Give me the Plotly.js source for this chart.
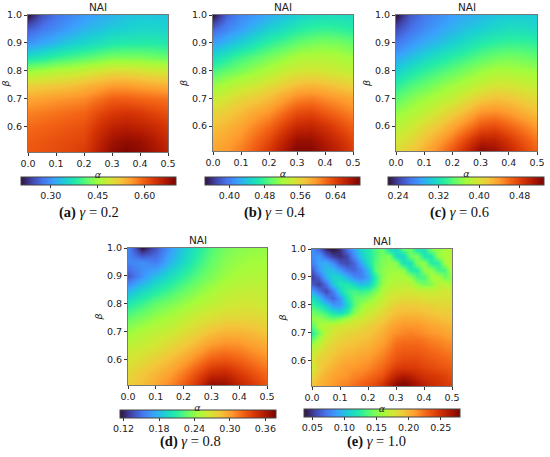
<!DOCTYPE html>
<html>
<head>
<meta charset="utf-8">
<script src="https://cdn.plot.ly/plotly-3.0.1.min.js"></script>
<style>html,body{margin:0;padding:0;background:#fff;}#chart{width:550px;height:457px;}</style>
</head>
<body>
<div id="chart"></div>
<script>
// grid coordinates
const alpha11 = [0, 0.05, 0.1, 0.15, 0.2, 0.25, 0.3, 0.35, 0.4, 0.45, 0.5];
const beta11 = [1.0, 0.95, 0.9, 0.85, 0.8, 0.75, 0.7, 0.65, 0.6, 0.55, 0.5];
const alpha21 = [0, 0.025, 0.05, 0.075, 0.1, 0.125, 0.15, 0.175, 0.2, 0.225, 0.25, 0.275, 0.3, 0.325, 0.35, 0.375, 0.4, 0.425, 0.45, 0.475, 0.5];
const beta21 = [1.0, 0.975, 0.95, 0.925, 0.9, 0.875, 0.85, 0.825, 0.8, 0.775, 0.75, 0.725, 0.7, 0.675, 0.65, 0.625, 0.6, 0.575, 0.55, 0.525, 0.5];

// NAI values, rows = beta (top to bottom), cols = alpha
const naiA = [
 [0.205,0.250,0.275,0.290,0.305,0.315,0.325,0.335,0.340,0.340,0.340],
 [0.260,0.280,0.295,0.310,0.325,0.335,0.345,0.350,0.355,0.355,0.350],
 [0.300,0.315,0.330,0.345,0.355,0.365,0.375,0.380,0.380,0.380,0.375],
 [0.365,0.375,0.390,0.400,0.410,0.420,0.430,0.430,0.430,0.425,0.420],
 [0.450,0.455,0.465,0.470,0.480,0.490,0.500,0.500,0.495,0.490,0.485],
 [0.510,0.515,0.520,0.525,0.535,0.545,0.555,0.555,0.550,0.545,0.540],
 [0.550,0.555,0.560,0.565,0.570,0.585,0.600,0.600,0.595,0.590,0.585],
 [0.575,0.580,0.585,0.590,0.595,0.615,0.630,0.635,0.630,0.620,0.610],
 [0.590,0.595,0.600,0.605,0.610,0.635,0.655,0.660,0.655,0.645,0.630],
 [0.600,0.605,0.610,0.615,0.620,0.650,0.675,0.685,0.680,0.665,0.645],
 [0.605,0.610,0.615,0.620,0.630,0.660,0.690,0.700,0.690,0.675,0.655]
];
const naiB = [
 [0.345,0.387,0.405,0.415,0.426,0.436,0.447,0.454,0.457,0.457,0.454],
 [0.387,0.405,0.419,0.433,0.447,0.457,0.468,0.475,0.478,0.475,0.471],
 [0.419,0.433,0.447,0.461,0.475,0.485,0.496,0.503,0.506,0.503,0.496],
 [0.454,0.468,0.482,0.492,0.503,0.513,0.524,0.527,0.527,0.524,0.517],
 [0.485,0.496,0.506,0.517,0.527,0.538,0.545,0.548,0.545,0.541,0.534],
 [0.513,0.524,0.534,0.541,0.552,0.562,0.573,0.576,0.573,0.566,0.559],
 [0.538,0.548,0.559,0.566,0.576,0.590,0.604,0.608,0.601,0.594,0.587],
 [0.559,0.566,0.576,0.587,0.597,0.615,0.632,0.636,0.625,0.615,0.604],
 [0.573,0.580,0.590,0.604,0.618,0.639,0.657,0.660,0.650,0.636,0.622],
 [0.583,0.590,0.601,0.618,0.636,0.660,0.681,0.681,0.667,0.653,0.636],
 [0.590,0.597,0.611,0.629,0.650,0.674,0.695,0.692,0.678,0.664,0.646]
];
const naiC = [
 [0.220,0.251,0.266,0.275,0.285,0.291,0.297,0.303,0.306,0.306,0.306],
 [0.245,0.263,0.275,0.285,0.294,0.303,0.309,0.315,0.319,0.319,0.315],
 [0.266,0.279,0.291,0.300,0.309,0.319,0.328,0.334,0.337,0.337,0.334],
 [0.288,0.300,0.312,0.322,0.331,0.340,0.349,0.356,0.359,0.356,0.352],
 [0.309,0.322,0.334,0.343,0.352,0.362,0.371,0.377,0.377,0.374,0.371],
 [0.331,0.343,0.352,0.362,0.371,0.380,0.389,0.396,0.396,0.392,0.386],
 [0.349,0.362,0.371,0.380,0.389,0.402,0.414,0.420,0.417,0.411,0.405],
 [0.368,0.377,0.386,0.399,0.411,0.426,0.442,0.445,0.439,0.429,0.420],
 [0.383,0.392,0.405,0.417,0.433,0.451,0.469,0.473,0.463,0.451,0.439],
 [0.396,0.405,0.420,0.436,0.454,0.479,0.500,0.500,0.485,0.469,0.454],
 [0.405,0.417,0.433,0.451,0.473,0.500,0.528,0.519,0.500,0.482,0.466]
];
const naiD = [
 [0.160,0.114,0.140,0.167,0.188,0.206,0.222,0.233,0.238,0.241,0.241],
 [0.159,0.162,0.155,0.178,0.196,0.214,0.228,0.238,0.243,0.246,0.246],
 [0.140,0.164,0.183,0.198,0.212,0.225,0.235,0.243,0.249,0.251,0.251],
 [0.177,0.193,0.206,0.217,0.228,0.238,0.246,0.254,0.257,0.259,0.257],
 [0.206,0.217,0.228,0.235,0.243,0.251,0.257,0.262,0.265,0.265,0.262],
 [0.228,0.235,0.243,0.249,0.257,0.265,0.270,0.275,0.275,0.275,0.272],
 [0.243,0.251,0.257,0.262,0.270,0.278,0.286,0.291,0.291,0.288,0.283],
 [0.257,0.262,0.267,0.275,0.283,0.294,0.304,0.309,0.307,0.301,0.296],
 [0.267,0.272,0.280,0.288,0.299,0.312,0.325,0.328,0.323,0.315,0.307],
 [0.275,0.283,0.291,0.301,0.315,0.333,0.349,0.352,0.341,0.330,0.320],
 [0.280,0.288,0.299,0.312,0.328,0.349,0.378,0.373,0.357,0.344,0.330]
];
const naiE = [
 [0.081,0.066,0.044,0.037,0.047,0.071,0.090,0.110,0.120,0.134,0.144,0.115,0.110,0.139,0.144,0.117,0.117,0.149,0.154,0.159,0.163],
 [0.081,0.086,0.066,0.052,0.047,0.056,0.081,0.105,0.120,0.134,0.146,0.149,0.115,0.110,0.144,0.149,0.120,0.120,0.154,0.161,0.166],
 [0.076,0.090,0.095,0.081,0.061,0.056,0.066,0.090,0.115,0.137,0.149,0.154,0.151,0.117,0.115,0.149,0.154,0.124,0.124,0.159,0.168],
 [0.061,0.086,0.100,0.100,0.086,0.071,0.066,0.076,0.100,0.139,0.151,0.156,0.156,0.154,0.124,0.122,0.154,0.156,0.134,0.134,0.168],
 [0.052,0.066,0.095,0.110,0.110,0.095,0.081,0.076,0.090,0.124,0.151,0.159,0.161,0.161,0.156,0.134,0.134,0.159,0.161,0.144,0.154],
 [0.061,0.052,0.071,0.105,0.120,0.120,0.110,0.100,0.105,0.129,0.154,0.163,0.166,0.168,0.166,0.154,0.146,0.149,0.166,0.166,0.159],
 [0.090,0.071,0.056,0.076,0.110,0.129,0.134,0.129,0.134,0.146,0.161,0.171,0.173,0.176,0.176,0.173,0.173,0.171,0.173,0.176,0.176],
 [0.115,0.100,0.076,0.066,0.086,0.120,0.139,0.144,0.149,0.159,0.168,0.178,0.180,0.183,0.183,0.183,0.180,0.180,0.180,0.180,0.178],
 [0.129,0.120,0.105,0.086,0.086,0.110,0.139,0.154,0.163,0.168,0.176,0.183,0.188,0.190,0.190,0.190,0.188,0.188,0.185,0.185,0.183],
 [0.144,0.139,0.129,0.115,0.110,0.124,0.149,0.163,0.171,0.178,0.183,0.190,0.195,0.197,0.197,0.197,0.195,0.193,0.190,0.190,0.188],
 [0.154,0.154,0.149,0.144,0.151,0.161,0.171,0.176,0.180,0.185,0.190,0.197,0.202,0.205,0.205,0.205,0.202,0.200,0.197,0.195,0.193],
 [0.139,0.159,0.166,0.171,0.176,0.178,0.180,0.183,0.188,0.193,0.197,0.205,0.210,0.212,0.212,0.212,0.210,0.207,0.205,0.202,0.200],
 [0.124,0.146,0.168,0.178,0.183,0.185,0.188,0.190,0.193,0.197,0.202,0.210,0.214,0.217,0.219,0.217,0.214,0.212,0.210,0.207,0.205],
 [0.144,0.161,0.176,0.183,0.188,0.190,0.193,0.195,0.197,0.202,0.207,0.214,0.222,0.224,0.224,0.224,0.222,0.219,0.217,0.214,0.212],
 [0.163,0.173,0.183,0.188,0.193,0.195,0.197,0.200,0.202,0.207,0.212,0.219,0.227,0.229,0.229,0.229,0.227,0.224,0.222,0.219,0.217],
 [0.173,0.183,0.188,0.193,0.197,0.200,0.202,0.205,0.207,0.212,0.217,0.224,0.231,0.234,0.234,0.234,0.231,0.229,0.227,0.224,0.222],
 [0.178,0.188,0.193,0.197,0.202,0.205,0.207,0.210,0.212,0.217,0.222,0.229,0.236,0.239,0.239,0.239,0.236,0.234,0.231,0.229,0.227],
 [0.173,0.190,0.197,0.202,0.207,0.210,0.212,0.214,0.217,0.222,0.227,0.236,0.244,0.246,0.246,0.244,0.241,0.239,0.236,0.234,0.231],
 [0.183,0.195,0.202,0.207,0.210,0.212,0.217,0.219,0.224,0.229,0.234,0.246,0.256,0.261,0.258,0.253,0.248,0.246,0.244,0.241,0.236],
 [0.193,0.200,0.205,0.210,0.214,0.217,0.222,0.227,0.231,0.236,0.244,0.258,0.270,0.275,0.270,0.263,0.256,0.251,0.248,0.244,0.241],
 [0.195,0.202,0.207,0.212,0.217,0.222,0.227,0.231,0.236,0.241,0.251,0.265,0.280,0.280,0.275,0.268,0.261,0.256,0.251,0.248,0.244]
];

// colorbar tick values
const ticksA = [0.30, 0.45, 0.60];
const ticksB = [0.40, 0.48, 0.56, 0.64];
const ticksC = [0.24, 0.32, 0.40, 0.48];
const ticksD = [0.12, 0.18, 0.24, 0.30, 0.36];
const ticksE = [0.05, 0.10, 0.15, 0.20, 0.25];

const captions = ['<b>(a)</b> <i>γ</i> = 0.2', '<b>(b)</b> <i>γ</i> = 0.4', '<b>(c)</b> <i>γ</i> = 0.6', '<b>(d)</b> <i>γ</i> = 0.8', '<b>(e)</b> <i>γ</i> = 1.0'];

const turboHex = ['#30123b','#4145ab','#4675ed','#39a2fc','#1bcfd4','#24eca6','#61fc6c','#a4fc3b','#d1e834','#f3c63a','#fe9b2d','#f36315','#d93806','#b11901','#7a0402'];
const turbo = turboHex.map((c, i) => [i / (turboHex.length - 1), c]);

const W = 550, H = 457;
const px = v => v / W;
const py = v => 1 - v / H;

const panels = [
  {z: naiA, x: alpha11, y: beta11, box: [28, 168, 15, 152], cb: [21, 176, 177], ticks: ticksA, cap: [89, 212]},
  {z: naiB, x: alpha11, y: beta11, box: [213, 353, 15, 151], cb: [205, 360, 177], ticks: ticksB, cap: [274, 212]},
  {z: naiC, x: alpha11, y: beta11, box: [396, 537, 15, 151], cb: [388, 544, 177], ticks: ticksC, cap: [460, 212]},
  {z: naiD, x: alpha11, y: beta11, box: [128, 267, 248, 385], cb: [120, 276, 410], ticks: ticksD, cap: [190, 441]},
  {z: naiE, x: alpha21, y: beta21, box: [312, 452, 249, 386], cb: [304, 460, 409], ticks: ticksE, cap: [376, 441]}
];

const tickFont = {family: 'DejaVu Sans', size: 9.5, color: '#222'};
const data = [];
const layout = {
  width: W, height: H,
  margin: {l: 0, r: 0, t: 0, b: 0},
  paper_bgcolor: '#fff', plot_bgcolor: '#fff',
  showlegend: false,
  annotations: []
};

panels.forEach((p, i) => {
  const n = i === 0 ? '' : String(i + 1);
  data.push({
    type: 'heatmap',
    z: p.z, x: p.x, y: p.y,
    xaxis: 'x' + n, yaxis: 'y' + n,
    colorscale: turbo,
    zsmooth: 'best',
    hoverinfo: 'skip',
    colorbar: {
      orientation: 'h',
      x: px((p.cb[0] + p.cb[1]) / 2), xanchor: 'center',
      y: py(p.cb[2]), yanchor: 'top',
      len: p.cb[1] - p.cb[0], lenmode: 'pixels',
      thickness: 8, thicknessmode: 'pixels',
      xpad: 0, ypad: 0,
      outlinecolor: '#444', outlinewidth: 1,
      tickvals: p.ticks, tickformat: '.2f',
      ticks: 'outside', ticklen: 3, tickcolor: '#333',
      tickfont: tickFont
    }
  });
  const xa = {
    domain: [px(p.box[0]), px(p.box[1])],
    anchor: 'y' + n,
    range: [0, 0.5], dtick: 0.1, tick0: 0, tickformat: '.1f',
    ticks: 'outside', ticklen: 3, tickcolor: '#333',
    showline: true, linecolor: '#777', linewidth: 1, mirror: true,
    showgrid: false, zeroline: false,
    tickfont: tickFont,
    title: {text: '<i>α</i>', font: {family: 'DejaVu Sans', size: 9.5, color: '#222'}, standoff: 2}
  };
  const ya = {
    domain: [py(p.box[3]), py(p.box[2])],
    anchor: 'x' + n,
    range: [0.51, 1.0], dtick: 0.1, tick0: 0.5, tickformat: '.1f',
    ticks: 'outside', ticklen: 3, tickcolor: '#333',
    showline: true, linecolor: '#777', linewidth: 1, mirror: true,
    showgrid: false, zeroline: false,
    tickfont: tickFont,
    title: {text: '<i>β</i>', font: {family: 'DejaVu Sans', size: 9.5, color: '#222'}, standoff: 2}
  };
  layout['xaxis' + n] = xa;
  layout['yaxis' + n] = ya;
  layout.annotations.push({
    text: 'NAI', xref: 'paper', yref: 'paper',
    x: px((p.box[0] + p.box[1]) / 2), y: py(p.box[2]),
    xanchor: 'center', yanchor: 'bottom', yshift: 0,
    showarrow: false, font: {family: 'DejaVu Sans', size: 10.5, color: '#222'}
  });
  layout.annotations.push({
    text: captions[i], xref: 'paper', yref: 'paper',
    x: px(p.cap[0]), y: py(p.cap[1]),
    xanchor: 'center', yanchor: 'middle',
    showarrow: false, font: {family: 'Liberation Serif', size: 14.5, color: '#111'}
  });
});

Plotly.newPlot('chart', data, layout, {staticPlot: true, displayModeBar: false});
</script>
</body>
</html>
